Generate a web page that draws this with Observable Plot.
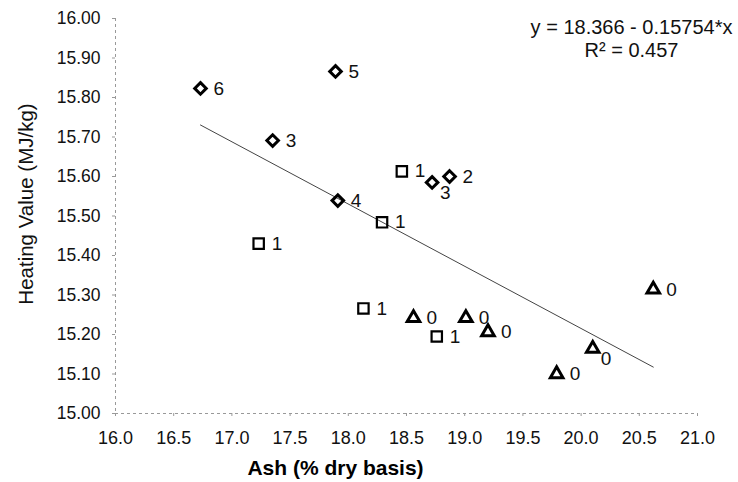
<!DOCTYPE html>
<html><head><meta charset="utf-8">
<script src="https://cdn.jsdelivr.net/npm/d3@7"></script>
<script src="https://cdn.jsdelivr.net/npm/@observablehq/plot@0.6"></script>
<style>body{margin:0;background:#fff;}</style>
</head><body><div id="chart"></div>
<script>
// Diamonds
const diamondAsh = [16.73, 17.89, 17.35, 17.91, 18.72, 18.87];
const diamondHV = [15.823, 15.866, 15.691, 15.539, 15.585, 15.600];
const diamondLabel = ["6", "5", "3", "4", "3", "2"];
// Squares
const squareAsh = [18.46, 18.29, 17.23, 18.13, 18.76];
const squareHV = [15.613, 15.484, 15.430, 15.266, 15.195];
const squareLabel = ["1", "1", "1", "1", "1"];
// Triangles
const triangleAsh = [18.56, 19.01, 19.20, 19.79, 20.10, 20.62];
const triangleHV = [15.242, 15.242, 15.206, 15.100, 15.164, 15.314];
const triangleLabel = ["0", "0", "0", "0", "0", "0"];

const xTicks = [16.0, 16.5, 17.0, 17.5, 18.0, 18.5, 19.0, 19.5, 20.0, 20.5, 21.0];
const yTicks = [15.0, 15.1, 15.2, 15.3, 15.4, 15.5, 15.6, 15.7, 15.8, 15.9, 16.0];
const xTitle = "Ash (% dry basis)";
const yTitle = "Heating Value (MJ/kg)";
const fitIntercept = 18.366;
const fitSlope = -0.15754;
const eqLines = "y = 18.366 - 0.15754*x\nR² = 0.457";

const rows = (xs, ys, ls) => xs.map((x, i) => ({ash: x, hv: ys[i], label: ls[i]}));
const diamonds = rows(diamondAsh, diamondHV, diamondLabel);
const squares = rows(squareAsh, squareHV, squareLabel);
const triangles = rows(triangleAsh, triangleHV, triangleLabel);
const allPts = [...diamonds, ...squares, ...triangles];
const fitRows = d3.extent(allPts, d => d.ash).map(x => ({ash: x, hv: fitIntercept + fitSlope * x}));

// label offsets (two labels sit below-right of their marker)
const offDown = (d) => (d.ash === 18.72 && d.label === "3") || (d.ash === 20.10);
const rightLabels = allPts.filter(d => !offDown(d));
const downLabels = allPts.filter(d => offDown(d));

const font = "Liberation Sans, Arial, Helvetica, sans-serif";
const chart = Plot.plot({
  width: 738, height: 482,
  marginLeft: 115, marginRight: 41, marginTop: 18, marginBottom: 69,
  style: {fontFamily: font, fontSize: "17px", color: "#1a1a1a", background: "#fff"},
  x: {domain: [16, 21]},
  y: {domain: [15, 16]},
  marks: [
    Plot.ruleX([16], {stroke: "#999", strokeDasharray: "3,3"}),
    Plot.ruleY([15], {stroke: "#999", strokeDasharray: "3,3"}),
    Plot.axisX(xTicks, {tickFormat: d => d.toFixed(1), tickSize: 3, tickPadding: 15, stroke: "#999", fill: "#111", fontSize: 18, label: null}),
    Plot.axisY(yTicks, {tickFormat: d => d.toFixed(2), tickSize: 3, tickPadding: 12, stroke: "#999", fill: "#111", fontSize: 17.5, label: null}),
    Plot.line(fitRows, {x: "ash", y: "hv", stroke: "#444", strokeWidth: 1}),
    Plot.dot(diamonds, {x: "ash", y: "hv", symbol: "diamond2", r: 5.2, stroke: "#000", strokeWidth: 3}),
    Plot.dot(squares, {x: "ash", y: "hv", symbol: "square2", r: 6.6, stroke: "#000", strokeWidth: 2.2}),
    Plot.dot(triangles, {x: "ash", y: "hv", symbol: "triangle2", r: 6, stroke: "#000", strokeWidth: 3}),
    Plot.text(rightLabels, {x: "ash", y: "hv", text: "label", textAnchor: "start", dx: 13, fontSize: 19, fill: "#111"}),
    Plot.text(downLabels, {x: "ash", y: "hv", text: "label", textAnchor: "start", dx: 8, dy: 10, fontSize: 19, fill: "#111"}),
    Plot.text([eqLines], {text: d => d, frameAnchor: "top-right", textAnchor: "middle", lineAnchor: "top", dx: -66, dy: -1, fontSize: 20, lineHeight: 1.15, fill: "#111"}),
    Plot.text([yTitle], {text: d => d, frameAnchor: "left", rotate: -90, textAnchor: "middle", lineAnchor: "bottom", dx: -83, dy: -12, fontSize: 20.5, fill: "#111"}),
    Plot.text([xTitle], {text: d => d, frameAnchor: "bottom", textAnchor: "middle", lineAnchor: "bottom", dx: -71, dy: 61, fontSize: 21, fontWeight: "bold", fill: "#000"})
  ]
});
document.getElementById("chart").appendChild(chart);
</script>
</body></html>
